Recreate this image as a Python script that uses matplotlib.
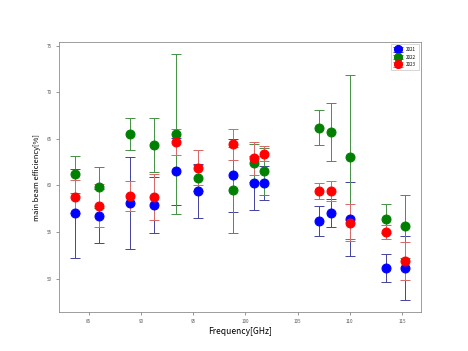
import matplotlib
matplotlib.use('Agg')
import matplotlib.pyplot as plt

plt.rcParams['font.family'] = ['Noto Sans CJK SC', 'DejaVu Sans']

freq = [83.7, 86.0, 89.0, 91.3, 93.4, 95.5, 98.8, 100.85, 101.75, 107.05, 108.2, 110.0, 113.5, 115.25]

eff_2021 = [57.0, 56.7, 58.1, 57.9, 61.5, 59.4, 61.1, 60.3, 60.25, 56.2, 57.0, 56.4, 51.1, 51.15]
err_2021 = [4.75, 2.9, 4.9, 3.0, 3.6, 2.85, 3.9, 2.9, 1.8, 1.6, 1.5, 4.0, 1.5, 3.45]

eff_2022 = [61.2, 59.8, 65.5, 64.3, 65.5, 60.8, 59.5, 62.4, 61.5, 66.2, 65.7, 63.0, 56.45, 55.6]
err_2022 = [2.0, 2.2, 1.7, 2.9, 8.55, 1.4, 4.6, 2.0, 2.5, 1.9, 3.1, 8.8, 1.55, 3.4]

eff_2023 = [58.8, 57.8, 58.9, 58.75, 64.7, 61.9, 64.4, 62.9, 63.4, 59.4, 59.4, 56.0, 55.0, 51.9]
err_2023 = [1.8, 2.3, 1.6, 2.45, 1.4, 1.9, 1.7, 1.8, 0.8, 0.85, 1.1, 2.0, 0.8, 2.0]

fig, ax = plt.subplots(figsize=(6.5, 4.875), dpi=72)

series = [
    (eff_2021, err_2021, 'blue', '#4848a0', '2021'),
    (eff_2022, err_2022, 'green', '#4a944a', '2022'),
    (eff_2023, err_2023, 'red', '#d86a6a', '2023'),
]
for vals, errs, col, ecol, lab in series:
    ax.errorbar(freq, vals, yerr=errs, fmt='o', color=col, ecolor=ecol,
                markersize=9, capsize=5, elinewidth=1.0, capthick=1.0,
                label=lab)

ax.set_xlabel('Frequency[GHz]', fontsize=8.5, labelpad=3)
ax.set_ylabel('main beam efficiency[%]', fontsize=7.5, labelpad=6)
ax.set_xticks([85, 90, 95, 100, 105, 110, 115])
ax.set_yticks([50, 55, 60, 65, 70, 75])
ax.tick_params(labelsize=4.5, length=3, width=0.6, colors='#555555')
for sp in ax.spines.values():
    sp.set_color('#888888')

ax.legend(loc='upper right', fontsize=4.5, markerscale=0.9, handletextpad=0.8,
          borderpad=0.6, labelspacing=0.55, fancybox=False)

plt.savefig('out.png', dpi=72)
